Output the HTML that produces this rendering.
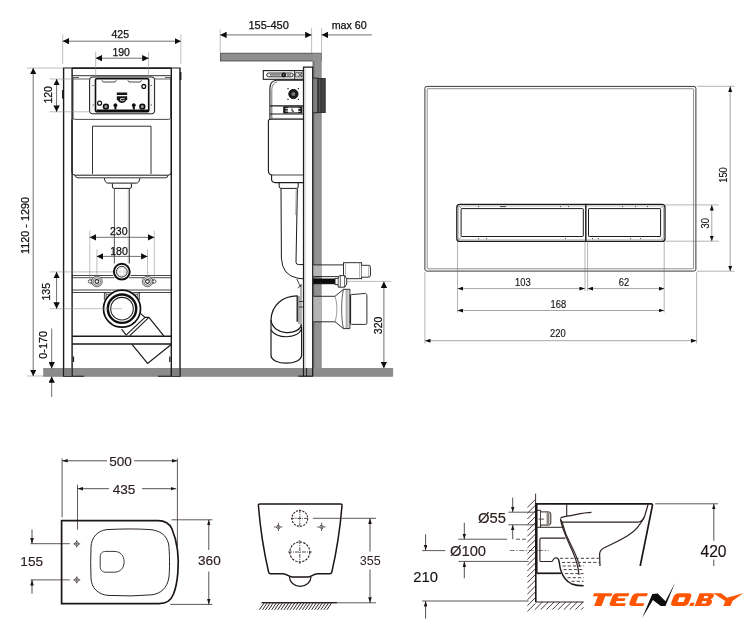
<!DOCTYPE html>
<html><head><meta charset="utf-8">
<style>
html,body{margin:0;padding:0;background:#fff;}
svg{display:block;}
text{font-family:"Liberation Sans",sans-serif;}
</style></head><body>
<svg width="753" height="640" viewBox="0 0 753 640">
<defs>
<marker id="a" viewBox="0 0 6.4 6.4" refX="6.4" refY="3.2" markerWidth="6.4" markerHeight="6.4" markerUnits="userSpaceOnUse" orient="auto-start-reverse"><path d="M0,0L6.4,3.2L0,6.4z" fill="#0a0a0a"/></marker>
<marker id="b" viewBox="0 0 5.6 4" refX="5.6" refY="2" markerWidth="5.6" markerHeight="4" markerUnits="userSpaceOnUse" orient="auto-start-reverse"><path d="M0,0L5.6,2L0,4z" fill="#111"/></marker>
<marker id="c" viewBox="0 0 5.6 3.6" refX="5.6" refY="1.8" markerWidth="5.6" markerHeight="3.6" markerUnits="userSpaceOnUse" orient="auto-start-reverse"><path d="M0,0L5.6,1.8L0,3.6z" fill="#1e1616"/></marker>
<filter id="soft" x="0" y="0" width="753" height="640" filterUnits="userSpaceOnUse"><feGaussianBlur stdDeviation="0.35"/></filter>
</defs>
<rect width="753" height="640" fill="#fff"/>
<g filter="url(#soft)">
<rect width="753" height="640" fill="#fff"/>

<!-- ================= FLOOR / WALL / CEILING ================= -->
<g id="grey">
<rect x="43.2" y="368" width="349.9" height="8.5" fill="#8c8c8c"/>
<path d="M43.2,376.3H392.4" stroke="#777" stroke-width="0.6"/>
<rect x="220.5" y="53.2" width="100.8" height="7.8" fill="#8e8e8e" stroke="#444" stroke-width="0.8"/>
<rect x="312.6" y="53.6" width="8.8" height="314.6" fill="#929292"/>
<path d="M321.3,61V368" stroke="#777" stroke-width="0.5"/>
<rect x="312.7" y="61" width="1.8" height="307" fill="#777"/>
</g>

<!-- ================= DRAWING 1 : FRAME FRONT ================= -->
<g id="d1" fill="none" stroke="#1a1a1a" stroke-width="0.9">

<!-- posts -->
<path d="M63.6,68V376.2M72.1,68V376.2M171.3,68V376.2M180,68V376.2" stroke-width="1.4"/>
<path d="M63,68H180.6" stroke-width="1.2"/><path d="M72,68.2H171.3" stroke-width="1.6"/>
<path d="M71.9,75.7H171.3" stroke-width="0.9"/>
<path d="M180.6,72V80" stroke-width="1.6"/>
<path d="M62.8,90V98.5" stroke-width="1.5"/>
<!-- feet -->
<path d="M63,376.2H84M158,376.2H180.6" stroke-width="1.1"/>
<rect x="64.3" y="368" width="7.1" height="8" fill="#808080" stroke="none"/>
<rect x="172" y="368" width="7.3" height="8" fill="#808080" stroke="none"/>
<path d="M73.5,356.5V362M169.8,356.5V362" stroke-width="1.2"/>
<!-- upper plate behind panel -->
<path d="M73,77.5V117.4Q73,119.4 75,119.4H168.7Q170.7,119.4 170.7,117.4V77.5" stroke-width="0.8"/>
<path d="M73,79H90.4M153.3,79H170.7M73,77.5H79M165,77.5H170.7" stroke-width="0.7"/>
<!-- service panel -->
<rect x="89.6" y="77" width="65" height="36.8" rx="2.8" fill="#f4f4f4" stroke-width="1"/>
<rect x="95.5" y="78.7" width="53.2" height="33" rx="1.2" fill="#fff" stroke="#111" stroke-width="1.6"/>
<path d="M92.6,85.5H93.8M92.6,105H93.8M150.6,85.5H151.8M150.6,105H151.8" stroke-width="0.8"/>
<path d="M96.5,110.3H148" stroke="#111" stroke-width="1.8"/>
<path d="M102,80.3L103.2,82H115L116.2,80.3M127.8,80.3L129,82H140.3L141.5,80.3" stroke-width="0.8"/>
<circle cx="143.8" cy="86.4" r="1.9" stroke="#111" stroke-width="1.3"/>
<circle cx="99.6" cy="103.2" r="2" stroke="#111" stroke-width="1.2"/>
<circle cx="105.9" cy="106.6" r="2.4" fill="#999" stroke="#111" stroke-width="1.6"/>
<circle cx="142.3" cy="106.6" r="2.4" fill="#999" stroke="#111" stroke-width="1.6"/>
<circle cx="115.4" cy="105.2" r="1.5" fill="#111" stroke="#111" stroke-width="1"/>
<circle cx="133.8" cy="105.2" r="1.5" fill="#111" stroke="#111" stroke-width="1"/>
<path d="M116.8,92.5H127.2V95H116.8Z" fill="#151515" stroke="none"/>
<path d="M116.8,96.2H127.2V99.2L124.6,102.3Q122,103.6 119.4,102.3L116.8,99.2Z" fill="#151515" stroke="none"/>
<path d="M120.6,98.6H124.6M120.6,98.6V100.4Q122.4,101.6 124.6,100.2" stroke="#fff" stroke-width="0.8"/>
<path d="M115.4,105V109.5M133.8,105V109.5" stroke="#111" stroke-width="2"/>
<!-- cistern -->
<path d="M71.9,119.4V172Q71.9,175 75,175.2H168.2Q171.3,175 171.3,172V119.4" stroke-width="1"/>
<path d="M75,175.2Q75.5,177.8 78,177.8H165.2Q167.8,177.8 168.2,175.2" stroke-width="0.9"/>
<path d="M92.5,174V126.2H151V174" stroke-width="0.9"/>
<!-- outlet -->
<path d="M104.4,178.2Q105,183.1 108,183.1H136.3Q139.3,183.1 139.9,178.2" stroke-width="1"/>
<path d="M112.4,183.4V187Q112.4,188.4 114.4,188.4H129.7Q131.4,188.4 131.4,187V183.4" stroke-width="1"/>
<path d="M114.4,188.4V263.5M129.5,188.4V263.5" stroke-width="0.8" stroke="#333"/>
<path d="M128.3,188.4V263.5" stroke-width="0.5" stroke="#666"/>
<!-- rails -->
<path d="M71.9,275.5H113M130.6,275.5H171.3M71.9,277.7H114.5M129,277.7H171.3" stroke-width="0.8"/>
<path d="M71.9,290H171.3M71.9,292.5H171.3" stroke-width="0.8"/>
<!-- flush inlet ring -->
<circle cx="121.8" cy="271.7" r="8.9" fill="#fff" stroke="none"/>
<circle cx="121.8" cy="271.7" r="7.9" stroke="#111" stroke-width="2"/>
<circle cx="121.8" cy="271.7" r="5.4" fill="#e4e4e4" stroke="#222" stroke-width="0.9"/>
<path d="M118.5,269.5H125M118.5,273.5H125M121.8,268V275" stroke="#fff" stroke-width="1"/>
<!-- bolts -->
<g stroke-width="0.8" stroke="#333">
<circle cx="90" cy="281.5" r="1.7" fill="#fff"/><circle cx="154.3" cy="281.5" r="1.7" fill="#fff"/>
<path d="M90.5,279.9L93,279.2M90.5,283.1L93,283.8M153.8,279.9L151.3,279.2M153.8,283.1L151.3,283.8" stroke-width="0.7"/>
<circle cx="96.9" cy="281.5" r="5.3" fill="#dcdcdc" stroke="#444"/><circle cx="96.9" cy="281.5" r="3.7" fill="#fff" stroke="#555" stroke-width="0.7"/><circle cx="96.9" cy="281.5" r="1.9" fill="#fff" stroke="#222" stroke-width="1.1"/>
<circle cx="147.5" cy="281.5" r="5.3" fill="#dcdcdc" stroke="#444"/><circle cx="147.5" cy="281.5" r="3.7" fill="#fff" stroke="#555" stroke-width="0.7"/><circle cx="147.5" cy="281.5" r="1.9" fill="#fff" stroke="#222" stroke-width="1.1"/>
</g>
<!-- drain bracket + angled pipe -->
<path d="M104.4,300V292.5M139.4,300V292.5M106,300V294.2H137.8V300" stroke-width="0.8"/>
<path d="M106,294.2L104.4,292.5M137.8,294.2L139.4,292.5" stroke-width="0.6"/>
<path d="M139.8,312.9L145,317.4H148.9L163.8,335.8" stroke-width="1.2"/>
<path d="M145,317.4L126.1,335.2M148.9,317.4L129.6,335.8" stroke-width="1.1"/>
<path d="M121.6,329.1L126.1,335.2" stroke-width="1.1"/>
<path d="M132,344.4L147.6,363.5L170.9,344.7" stroke-width="1.2"/>
<!-- crossbar -->
<path d="M72.1,336.3H171.3M72.1,344H171.3" stroke-width="1.4"/>
<!-- drain rings -->
<circle cx="122" cy="308.7" r="19.4" fill="#fff" stroke="none"/>
<circle cx="122" cy="308.7" r="18.5" stroke="#111" stroke-width="1.7"/>
<circle cx="122" cy="308.7" r="14.2" stroke="#111" stroke-width="2.4"/>
<circle cx="122" cy="308.7" r="11.3" stroke="#222" stroke-width="1.1"/>

<g stroke="#8a8a8a" stroke-width="0.55">
<path d="M62.7,34.4V64M180.9,34.4V64"/>
<path d="M95.7,51.6V77M148.6,51.6V77"/>
<path d="M27,68H63M27,376H43.2"/>
<path d="M49.6,79H73M49.6,111.8H90"/>
<path d="M89.8,230.6V280M154.3,230.6V280M96.9,249.4V277M147.5,249.4V277"/>
<path d="M49.6,271.9H113M49.6,308.7H122"/>
</g>
<g stroke="#333" stroke-width="0.7" marker-start="url(#a)" marker-end="url(#a)">
<path d="M62.7,41.2H180.9"/>
<path d="M95.7,58.2H148.6"/>
<path d="M33.2,68V376"/>
<path d="M56.6,79V111.8"/>
<path d="M89.8,237.3H154.3"/>
<path d="M96.9,256.4H147.5"/>
<path d="M56.6,271.9V308.7"/>
</g>
<g stroke="#333" stroke-width="0.7" marker-end="url(#a)">
<path d="M51.7,328.6V368.4"/>
<path d="M51.7,397V376.4"/>
</g>
<g fill="#111" stroke="#111" stroke-width="0.25" font-size="10.5" text-anchor="middle">
<text x="120.3" y="38.1">425</text>
<text x="121.2" y="55.7">190</text>
<text x="118.8" y="234.8">230</text>
<text x="119" y="254.6">180</text>
<text transform="translate(28.7,225.5) rotate(-90)" font-size="10.8">1120 - 1290</text>
<text transform="translate(51.6,94.8) rotate(-90)">120</text>
<text transform="translate(50.3,291.7) rotate(-90)">135</text>
<text transform="translate(46.6,344.9) rotate(-90)" font-size="10.8">0-170</text>
</g>

</g>

<!-- ================= DRAWING 2 : FRAME SIDE ================= -->
<g id="d2" fill="none" stroke="#1a1a1a" stroke-width="0.9">

<!-- frame profile -->
<rect x="303.5" y="67.2" width="9.2" height="300.8" fill="#fff" stroke="none"/>
<path d="M303.5,376.2V67.2H312.7V376.2" stroke-width="1.2"/>
<path d="M305,68V368" stroke="#888" stroke-width="0.5"/>
<path d="M298.4,376.2H312.7" stroke-width="1.1"/>
<path d="M306.6,368V376.2" stroke-width="0.9"/>
<!-- flush plate on wall -->
<rect x="313.4" y="78.2" width="4.6" height="34.6" fill="#7c7c7c" stroke="none"/>
<path d="M313.4,78.2H318M313.4,112.8H318" stroke="#222" stroke-width="1"/>
<rect x="317.8" y="78.4" width="7.4" height="34.2" fill="#3c3c3c" stroke="#222" stroke-width="0.8"/>
<path d="M319.6,79V112" stroke="#666" stroke-width="0.7"/><path d="M323.2,79V112" stroke="#555" stroke-width="0.6"/>
<!-- top bracket -->
<rect x="263.3" y="70.6" width="39.9" height="8.7" fill="#fff" stroke-width="1.1"/>
<rect x="266.7" y="73" width="26.6" height="3.8" rx="1.9" fill="#e8e8e8" stroke-width="0.9"/>
<path d="M270,74.9H280.5M287,74.9H291" stroke-width="1.2" stroke="#666"/>
<circle cx="283.7" cy="74.9" r="2" fill="#111" stroke="#111" stroke-width="0.9"/>
<circle cx="283.7" cy="74.9" r="0.7" fill="#ccc" stroke="none"/>
<path d="M294.6,70.6V79.3" stroke-width="0.9"/>
<path d="M295.6,72.6H301.8V77H295.6ZM298,72.6L301.8,77M301.8,72.6L298,77" stroke-width="0.6" fill="#ddd"/>
<!-- cistern head -->
<path d="M303.2,80.2H276Q269.9,81 269.9,88.5V119.4" fill="none" stroke-width="1.1"/>
<path d="M271.8,105.5V89.5Q272.2,82.8 277,82" stroke-width="0.6"/>
<circle cx="293.4" cy="94" r="4.6" fill="#1c1c1c" stroke="#111" stroke-width="1"/>
<circle cx="293.4" cy="94" r="2" fill="#777" stroke="none"/>
<path d="M287.4,88.7H288.6M297.8,88.7H299M287.4,99.3H288.6M297.8,99.3H299" stroke-width="1.3"/>
<!-- mid band -->
<path d="M269.9,105.8H303.2M269.9,114H303.2" stroke-width="1.2"/>
<rect x="283.2" y="106.4" width="19.2" height="7" fill="#151515" stroke="none"/>
<rect x="287.8" y="107.6" width="10.6" height="4.8" fill="#fff" stroke="none"/>
<path d="M285.4,108.6H287.8M285.4,111H287.8M298.4,108.4H300.4M298.4,111.4H300.4" stroke="#fff" stroke-width="1"/>
<path d="M292,108.4V111.2H294" stroke="#111" stroke-width="0.9"/>
<path d="M271.8,106V119.4" stroke-width="0.7"/>
<path d="M271.8,118.4H303.2" stroke-width="0.6" stroke="#555"/>
<!-- cistern body -->
<path d="M303.2,119.2H270.4Q268.4,119.2 268.4,121.2V171Q268.6,174.5 271.6,175V180Q272,182.6 275,182.6H303.2" fill="none" stroke-width="1.1"/>
<path d="M271.6,175H303.2" stroke-width="0.8"/>
<!-- collar + pipe -->
<path d="M279.2,183V186.8Q279.4,188.4 281.2,188.4H296.4Q298.2,188.4 298.2,186.8V183" stroke-width="1"/>
<path d="M281,188.4L281.4,258Q282,275.5 298,278.3L303.2,278.8" stroke-width="1"/>
<path d="M297.4,188.4L296,262.4Q296.2,264.6 298.6,264.6H303.2" stroke-width="1"/>
<path d="M296.2,188.4L295.6,215" stroke-width="0.5" stroke="#666"/>


<!-- elbow + trap (left of frame) -->
<path d="M297.3,295.9C283,295.8 271.4,305 271,320.2V355.4C271.5,365.8 301,365.8 301.6,355.4V326.6" fill="#fff" stroke-width="1.2"/>
<path d="M271,320.2C273,336 299,336 301.6,324.5" stroke-width="1.2"/>
<path d="M271,329.6C275,339 298,339.5 301.6,328.8" stroke-width="1.1"/>
<path d="M297.3,295.6V321.8" stroke="#333" stroke-width="1.6"/>
<path d="M299,296V324M301,284V326" stroke-width="0.7"/>
<path d="M299,301.5H303M299,307H303M297.6,288L301.6,285M296.8,279L300.5,287" stroke-width="0.8"/>
<!-- pipes through wall (lighter) -->
<rect x="313.4" y="264.9" width="8.2" height="11.7" fill="#b4b4b4" stroke="none"/>
<rect x="313.4" y="296.3" width="8.2" height="25.5" fill="#b4b4b4" stroke="none"/>
<!-- flush pipe -->
<path d="M313.4,264.9H343.5M313.4,276.6H343.5" stroke-width="0.9"/>
<rect x="343.5" y="262.7" width="18.1" height="16" fill="#fff" stroke-width="0.9"/>
<path d="M361.6,265.3H368.5Q370.5,265.3 370.5,267.3V275.2Q370.5,277.2 368.5,277.2H361.6" fill="#fff" stroke-width="0.9"/>
<path d="M359.6,262.7V278.7M345.5,262.7V278.7M368.6,265.3V277.2" stroke-width="0.5" stroke="#666"/>
<!-- threaded bolt -->
<rect x="313.4" y="278.9" width="21.6" height="5" fill="#0c0c0c" stroke="#0c0c0c" stroke-width="0.6"/>
<path d="M335,278.4V284.6H338.2V287.2H344.6L346.7,284.2V278.8L344.6,275.6H340Q338.2,275.8 338.2,278.4Z" fill="#fff" stroke-width="0.9"/>
<path d="M338.2,278.4V284.6M344.6,275.6V287.2M340.3,275.8V287" stroke-width="0.7"/>
<!-- drain pipe -->
<path d="M313.4,296.3H335L343.5,289.3H349.9V328.6H343.5L335,321.8H313.4" fill="none" stroke-width="0.9"/>
<path d="M335,296.3C337.5,304 337.5,314 335,321.8" stroke-width="0.6" stroke="#555"/>
<path d="M343.5,289.3C341,300 341,318 343.5,328.6" stroke-width="0.7"/>
<path d="M346.2,289.3V328.6M347.9,289.3V328.6" stroke-width="0.6" stroke="#444"/>
<path d="M349.9,295.2L351.5,294.6L365.6,293.4Q366.9,294.2 366.9,295.5V323.1Q366.9,324.4 365.6,324.4H351.5L349.9,323.4" fill="#fff" stroke-width="0.9"/>
<path d="M350.4,295V323.6" stroke-width="1.4" stroke="#222"/>


<g stroke="#8a8a8a" stroke-width="0.55">
<path d="M220.2,29.5V52M311.6,28V53M321.6,28V53"/>
<path d="M346.7,281.4H391.3"/>
</g>
<g stroke="#333" stroke-width="0.7" marker-start="url(#a)" marker-end="url(#a)">
<path d="M220.2,34.9H311.6"/>
<path d="M383.9,281.6V368.2"/>
</g>
<path d="M372,34.9H321.6" stroke="#333" stroke-width="0.7" marker-end="url(#a)"/>
<g fill="#111" stroke="#111" stroke-width="0.25" font-size="10.5" text-anchor="middle">
<text x="268.6" y="28.5" font-size="11">155-450</text>
<text x="349.2" y="28.5" font-size="10.7">max 60</text>
<text transform="translate(381.6,325.4) rotate(-90)">320</text>
</g>

</g>

<!-- ================= DRAWING 3 : FLUSH PLATE ================= -->
<g id="d3" fill="none" stroke="#222" stroke-width="0.8">

<rect x="424.9" y="86.4" width="271" height="184.7" rx="2" stroke="#222" stroke-width="0.9"/>
<rect x="427.2" y="88.7" width="266.4" height="180.1" rx="0.8" stroke="#444" stroke-width="0.6"/>
<!-- button -->
<rect x="456.8" y="204.4" width="208.2" height="37" rx="3" stroke="#1a1a1a" stroke-width="1.3"/>
<rect x="458.3" y="205.9" width="205.2" height="34" rx="2" stroke="#666" stroke-width="0.5"/>
<rect x="461.1" y="208.6" width="122.2" height="27.9" rx="0.6" stroke="#1a1a1a" stroke-width="1"/>
<rect x="588.5" y="208.6" width="72.1" height="27.9" rx="0.6" stroke="#1a1a1a" stroke-width="1"/>
<path d="M585.8,203.8V242" stroke="#222" stroke-width="1.5"/>
<path d="M458.3,205.9L461.2,208M458.3,239.9L461.2,237M663.5,205.9L660.6,208M663.5,239.9L660.6,237" stroke="#555" stroke-width="0.5"/>
<path d="M478,206.6H479.2M500,206.6H506M560,206.6H561M568,206.6H569M622,206.6H623M635,206.6H636M647,206.6H648M478,238.6H479M486,238.6H487M565,238.6H566M592,238.6H593M598,238.6H599M630,238.6H631M640,238.6H641" stroke="#333" stroke-width="0.9"/>
<!-- ext lines -->
<g stroke="#777" stroke-width="0.55">
<path d="M457.5,241.4V312.5M585,241.4V291M587.6,241.4V291M664.2,241.4V312.5"/>
<path d="M424.9,272V343.5M696.6,272V343.5"/>
<path d="M665,204.9H719M665,241.2H719"/>
<path d="M696.9,86.3H734.5M696.9,271.2H734.5"/>
</g>
<g stroke="#6a6a6a" stroke-width="0.6" marker-start="url(#b)" marker-end="url(#b)">
<path d="M457.5,288.6H585"/>
<path d="M587.6,288.6H664.2"/>
<path d="M457.5,310.5H664.2"/>
<path d="M424.9,340.7H696.6"/>
<path d="M711.8,204.9V241.2"/>
<path d="M730.2,86.3V271.2"/>
</g>
<g fill="#111" stroke="#111" stroke-width="0.12" font-size="10.1" text-anchor="middle">
<text transform="translate(522.9,285.9) scale(0.93,1)">103</text>
<text transform="translate(624,285.9) scale(0.93,1)">62</text>
<text transform="translate(558.3,307.6) scale(0.93,1)">168</text>
<text transform="translate(557.8,336.6) scale(0.93,1)">220</text>
<text transform="translate(709,223.2) rotate(-90) scale(0.93,1)">30</text>
<text transform="translate(726.8,175) rotate(-90) scale(0.93,1)">150</text>
</g>

</g>

<!-- ================= DRAWING 4 : BOWL TOP ================= -->
<g id="d4" fill="none" stroke="#2e2222" stroke-width="0.8">

<!-- ext lines -->
<g stroke="#453a3a" stroke-width="0.85">
<path d="M62.1,458.4V517.3M177.4,458.4V546.5M77.5,484.7V529.8"/>
<path d="M30.6,543.7H69.8M30.6,579.9H69.8"/>
<path d="M171.5,519.8H212.4M170.3,604.4H212.4"/>
</g>
<!-- bowl outline -->
<path d="M61.6,520.7H158C165,520.7 169.5,523.5 172,529C174.5,535 176.6,543 177.5,550C178.4,557 178.4,566 177.8,573C177.2,581 175.5,589 173.5,594C171.2,600 166.5,603.7 159,603.7H61.6Z" stroke="#1c1414" stroke-width="1.7"/>
<path d="M107,529.6Q132,528.3 150,529.6C160,530.5 166.5,535 168.6,544C169.8,552 169.8,572 168.8,578C167,588 161,593.5 152,594.8Q132,596.7 108,595.4C98,594.5 91.3,588 91,578C90.6,568 90.6,557 91,547C91.3,537 98,530.5 107,529.6Z" stroke-width="1"/>
<path d="M106,551.4H114C120.5,551.4 124.1,555.5 124.1,561.8C124.1,568 120.5,572.2 114,572.2H106C102,572.2 100.2,570 100.2,566.5V557C100.2,553.5 102,551.4 106,551.4Z" stroke-width="0.9"/>
<!-- bolts -->
<g stroke-width="0.7">
<path d="M76.8,541.2L79.3,543.9L76.8,546.6L74.3,543.9ZM76.8,540.4V547.4M73.4,543.9H80.2" />
<path d="M76.8,577.2L79.3,579.9L76.8,582.6L74.3,579.9ZM76.8,576.4V583.4M73.4,579.9H80.2" />
</g>
<!-- dims -->
<g stroke="#3a3030" stroke-width="0.85">
<path d="M62.1,460.8H107" marker-start="url(#c)"/><path d="M134,460.8H177.4" marker-end="url(#c)"/>
<path d="M77.5,488.7H109" marker-start="url(#c)"/><path d="M142,488.7H176.2" marker-end="url(#c)"/>
<path d="M32,529.5V543.7" marker-end="url(#c)"/><path d="M32,593.6V579.9" marker-end="url(#c)"/>
<path d="M208.8,519.8V550" marker-start="url(#c)"/><path d="M208.8,571.5V604.4" marker-end="url(#c)"/>
</g>
<g fill="#2a1c1c" stroke="#2a1c1c" stroke-width="0.15" font-size="13.6" text-anchor="middle">
<text x="120.6" y="465.6">500</text>
<text x="124.1" y="493.5">435</text>
<text x="31.7" y="565.6">155</text>
<text x="209.4" y="565.1">360</text>
</g>
</g>

<!-- ================= DRAWING 5 : BOWL FRONT ================= -->
<g id="d5" fill="none" stroke="#2e2222" stroke-width="0.8">

<!-- hatch ground -->
<path d="M261.2,602.8H376" stroke="#453a3a" stroke-width="0.85"/>
<path d="M262.2,602.6H336.9" stroke="#2e2222" stroke-width="1.3"/>
<path d="M264.0,603L259.4,609.8M267.1,603L262.5,609.8M270.1,603L265.5,609.8M273.2,603L268.6,609.8M276.3,603L271.7,609.8M279.3,603L274.7,609.8M282.4,603L277.8,609.8M285.5,603L280.9,609.8M288.6,603L284.0,609.8M291.6,603L287.0,609.8M294.7,603L290.1,609.8M297.8,603L293.2,609.8M300.8,603L296.2,609.8M303.9,603L299.3,609.8M307.0,603L302.4,609.8M310.0,603L305.4,609.8M313.1,603L308.5,609.8M316.2,603L311.6,609.8M319.3,603L314.7,609.8M322.3,603L317.7,609.8M325.4,603L320.8,609.8M328.5,603L323.9,609.8M331.5,603L326.9,609.8" stroke="#2e2424" stroke-width="1"/>
<!-- bowl front -->
<path d="M260,504H340.4Q342.2,504 342,505.6Q339.2,540 331.8,572.2Q331.5,573.8 329.6,573.8H317.4C313.4,573.8 311.9,577 308.4,577H292C288.5,577 287,573.8 283,573.8H270.8Q268.9,573.8 268.6,572.2Q261.2,540 258.4,505.6Q258.2,504 260,504Z" stroke="#1c1414" stroke-width="1.5"/>
<path d="M289.4,577C289.6,582 294,586.3 300.2,586.3C306.4,586.3 310.8,582 311,577" stroke="#1c1414" stroke-width="1.2"/>
<!-- holes -->
<circle cx="299.8" cy="518.4" r="7.9" stroke-dasharray="2.2 1.1" stroke-width="1.1"/>
<path d="M299.8,509.6V527.4M291,518.4H308.6" stroke-dasharray="3.5 1 1 1" stroke-width="0.8"/>
<circle cx="299.8" cy="552" r="10" stroke-dasharray="2.4 1.2" stroke-width="1.1"/>
<path d="M299.8,540V564M288,552H311.8" stroke-dasharray="4 1 1 1" stroke-width="0.8"/>
<g stroke-width="0.8">
<path d="M278.4,524.4L280.5,527L278.4,529.6L276.3,527ZM278.4,522.8V531.2M274,527H282.8" stroke-dasharray="1.6 0.6"/>
<path d="M321.6,524.4L323.7,527L321.6,529.6L319.5,527ZM321.6,522.8V531.2M317.2,527H326" stroke-dasharray="1.6 0.6"/>
</g>
<!-- dim -->
<path d="M312.9,518.3H376" stroke="#453a3a" stroke-width="0.85"/>
<g stroke="#3a3030" stroke-width="0.85">
<path d="M370,518.3V551.5" marker-start="url(#c)"/><path d="M370,569.5V602.8" marker-end="url(#c)"/>
</g>
<g fill="#2e2020" stroke="none" font-size="12.6" text-anchor="middle">
<text x="370.2" y="565.2">355</text>
</g>

</g>

<!-- ================= DRAWING 6 : BOWL SIDE ================= -->
<g id="d6" fill="none" stroke="#2e2222" stroke-width="0.8">

<!-- hatching -->
<path d="M527.4,507.4L535.4,499.4M527.4,513.2L535.4,505.2M527.4,519.0L535.4,511.0M527.4,524.7L535.4,516.7M527.4,530.5L535.4,522.5M527.4,536.3L535.4,528.3M527.4,542.1L535.4,534.1M527.4,547.9L535.4,539.9M527.4,553.6L535.4,545.6M527.4,559.4L535.4,551.4M527.4,565.2L535.4,557.2M527.4,571.0L535.4,563.0M527.4,576.8L535.4,568.8M527.4,582.5L535.4,574.5M527.4,588.3L535.4,580.3M527.4,594.1L535.4,586.1M527.4,599.9L535.4,591.9M527.4,605.7L535.4,597.7M527.4,611.4L535.4,603.4" stroke="#2e2424" stroke-width="0.9"/>
<path d="M542.5,602L534.9,609.6M548.3,602L540.7,609.6M554.1,602L546.5,609.6M559.9,602L552.3,609.6M565.7,602L558.1,609.6M571.5,602L563.9,609.6M577.3,602L569.7,609.6M583.1,602L575.5,609.6M588.9,602L581.3,609.6" stroke="#2e2424" stroke-width="0.9"/>
<path d="M535.6,493.6V503" stroke="#2a1e1e" stroke-width="0.9"/>
<path d="M535.8,503V602" stroke="#1c1414" stroke-width="1.6"/>
<path d="M535.4,602H590" stroke="#2a1e1e" stroke-width="1"/>
<!-- bowl -->
<path d="M536.7,573.2V503.9H651Q652.8,503.9 652.4,505.6L640.2,566" stroke="#1c1414" stroke-width="1.7"/>
<path d="M536.7,573.3H561" stroke="#1c1414" stroke-width="1.7"/>
<path d="M648.1,504.4L644.6,516.2C641,524 636,530.5 628,535.5C620,540.5 610,545 603.5,548.2C600.5,549.8 599.7,551.5 599.6,554.3L600,566" stroke-width="1.25"/>
<path d="M644.2,517.2C642.5,521 641,522 638,522H562L560.4,519.2" stroke-width="1.25"/>
<path d="M560.2,518.4C562,516.6 564.5,516.6 567.2,516.2C576,514.8 583,512.6 591.5,512.4" stroke-width="1.25"/>
<path d="M566.7,503.9V516.2" stroke-width="1.1"/>
<path d="M560.4,519.2C562,527 566,537 569.5,544.5C573,552 576.5,559 578,568L579,575" stroke-width="1.25"/>
<path d="M562,522C564,530 568,539.5 571.5,546C575,553 578.5,560 579.8,567" stroke-width="1.1"/>
<!-- flush connector -->
<path d="M536.7,510.3H540.5V511.9H548.6Q550.8,511.9 550.8,514.1V522.9Q550.8,525.1 548.6,525.1H540.5V527.3" stroke-width="1"/>
<path d="M540.5,511.9V525.1M547.2,512.4V524.6M548.8,512.8V524.2M538.5,519.1H544" stroke-width="0.8"/>
<path d="M536.7,527.3H562.7" stroke-width="1"/>
<!-- inner trap -->
<path d="M565.4,538.1H541Q539.9,538.1 539.9,539.2V560.4Q539.9,561.5 541,561.5H552L554.2,558.4Q556,557.2 558.3,558.8" stroke-width="1.1"/>
<path d="M558.3,558.8C559.6,562 559.6,566 560.6,569.5C562.5,576.5 566,581 571.7,584C576,585.6 580,585.8 584,585.8" stroke="#1c1414" stroke-width="1.4"/>
<!-- water -->
<path d="M560,558.3H599.6M562,562.4H599.6M562.5,566H584M563.5,569.6H584M565,573.6H584M567.5,577.7H584M571.5,581.3H584" stroke="#4a4040" stroke-dasharray="3.2 2" stroke-width="1"/>
<!-- centre line -->
<path d="M509.7,550.5H548.8" stroke-dasharray="5 1.5 1.5 1.5" stroke-width="0.6"/>
<!-- dim ext lines -->
<g stroke="#453a3a" stroke-width="0.85">
<path d="M508.4,512.2H535.4M508.4,524.8H535.4"/>
<path d="M458.4,539.2H507.1M458.4,561.4H528.6"/>
<path d="M516,539.2H527.5" stroke-dasharray="4 2"/>
<path d="M422.1,550.6H445.3M422.1,601H528.6"/>
<path d="M655.2,503.8H718"/>
</g>
<g stroke="#3a3030" stroke-width="0.85" marker-end="url(#c)">
<path d="M512.7,497.6V512.2"/><path d="M512.7,539.2V524.8"/>
<path d="M464.3,522.8V539.2"/><path d="M464.3,578.3V561.4"/>
<path d="M425.6,534.2V550.6"/><path d="M425.6,618.7V601"/>
</g>
<path d="M713.8,540.7V503.8" stroke="#3a3030" stroke-width="0.85" marker-end="url(#c)"/>
<path d="M713.8,559.6V566" stroke="#3a3030" stroke-width="0.85"/>
<g stroke="#2e2020" stroke-width="0.15" font-size="14.8" text-anchor="middle">
<text x="492" y="522.6" fill="#2e2020">Ø55</text>
<text x="468" y="555.9" fill="#2e2020">Ø100</text>
<text x="425.6" y="581.9" fill="#111">210</text>
<text x="713.5" y="556.9" font-size="15.6" fill="#1a1010">420</text>
</g>

</g>

<!-- ================= LOGO ================= -->
<g id="logo">

<rect x="583.6" y="566.2" width="170" height="74" fill="#fff"/>
<g transform="translate(0,606.1) skewX(-21)" fill="#ff5500" fill-rule="evenodd">
<path d="M589.2,-12.8H607.5V-9.8H601.5V0H594.1V-9.8H589.2Z"/>
<path d="M612,-12.8H624.5V-9.9H614.7V-7.8H622.5V-5.1H614.7V-2.9H624.8V0H612Q608.7,0 608.7,-3V-9.8Q608.7,-12.8 612,-12.8Z"/>
<path d="M632.5,-12.8H643V-9.9H634.6V-2.9H643.3V0H632.5Q628.2,0 628.2,-4V-8.8Q628.2,-12.8 632.5,-12.8Z"/>
<path d="M674,-12.8H683.5Q687.6,-12.8 687.6,-8.8V-4Q687.6,0 683.5,0H674Q669.9,0 669.9,-4V-8.8Q669.9,-12.8 674,-12.8ZM676,-8.8H682V-4H676Z"/>
<path d="M689.2,-3.3H693.4V0H689.2Z"/>
<path d="M694.7,-12.8H706.5Q710,-12.8 710,-9.8Q710,-7 708,-6.6Q710.4,-6 710.4,-3.4Q710.4,0 706.6,0H694.7ZM700.5,-10.2H704.5V-7.9H700.5ZM700.5,-5.2H704.8V-2.7H700.5Z"/>
<path d="M708.3,-12.8H716.3L723.7,-8.4L738.2,-12.9L730.5,-5.2V0H723.3V-5.2Z"/>
</g>
<path d="M642.2,618L652.3,594.1L657.7,593.5L665.5,601.3L675,582.8L665.5,606.1H660.7L652.9,600.1Z" fill="#0a0a0a"/>
</g>
</g>
</svg>
</body></html>
